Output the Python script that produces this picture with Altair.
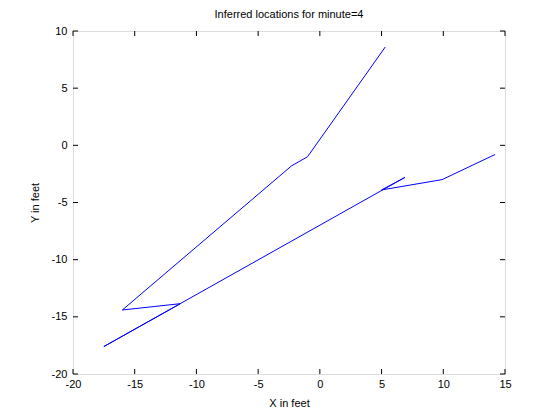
import altair as alt
import pandas as pd

# Path of inferred locations (in drawing order)
xs = [5.3, -1.0, -2.3, -16.0, -11.3, -17.5, 6.9, 5.0, 9.9, 14.2]
ys = [8.6, -1.0, -1.8, -14.4, -13.85, -17.6, -2.8, -3.9, -3.0, -0.8]

x_ticks = [-20, -15, -10, -5, 0, 5, 10, 15]
y_ticks = [-20, -15, -10, -5, 0, 5, 10]

df = pd.DataFrame({"x": xs, "y": ys, "i": list(range(len(xs)))})
dfx = pd.DataFrame({"t": x_ticks})
dfy = pd.DataFrame({"t": y_ticks})

W, H = 432, 343
TL = 5
FONT = "Liberation Sans"

xscale = alt.Scale(domain=[-20, 15], nice=False, zero=False)
yscale = alt.Scale(domain=[-20, 10], nice=False, zero=False)

xaxis = alt.Axis(values=x_ticks, ticks=False, domain=False, grid=False,
                 labelExpr="toString(datum.value)",
                 labelFont=FONT, labelFontSize=11, labelColor="black",
                 labelPadding=4, titleFont=FONT, titleFontSize=11,
                 titleFontWeight="normal", titleColor="black", titlePadding=8,
                 labelFlush=False)
yaxis = alt.Axis(values=y_ticks, ticks=False, domain=False, grid=False,
                 labelExpr="toString(datum.value)",
                 labelFont=FONT, labelFontSize=11, labelColor="black",
                 labelPadding=6, titleFont=FONT, titleFontSize=11,
                 titleFontWeight="normal", titleColor="black", titlePadding=11,
                 labelFlush=False)

main = alt.Chart(df).mark_line(color="#0000ff", strokeWidth=1).encode(
    x=alt.X("x:Q", scale=xscale, title="X in feet", axis=xaxis),
    y=alt.Y("y:Q", scale=yscale, title="Y in feet", axis=yaxis),
    order=alt.Order("i:Q"),
)

tx = alt.X("t:Q", scale=xscale, title="X in feet", axis=xaxis)
ty = alt.Y("t:Q", scale=yscale, title="Y in feet", axis=yaxis)

bottom_ticks = alt.Chart(dfx).mark_rule(color="black", strokeWidth=1).encode(
    x=tx, y=alt.value(H), y2=alt.value(H - TL))
top_ticks = alt.Chart(dfx).mark_rule(color="black", strokeWidth=1).encode(
    x=tx, y=alt.value(0), y2=alt.value(TL))
left_ticks = alt.Chart(dfy).mark_rule(color="black", strokeWidth=1).encode(
    y=ty, x=alt.value(0), x2=alt.value(TL))
right_ticks = alt.Chart(dfy).mark_rule(color="black", strokeWidth=1).encode(
    y=ty, x=alt.value(W), x2=alt.value(W - TL))

chart = (
    alt.layer(main, bottom_ticks, top_ticks, left_ticks, right_ticks)
    .properties(
        width=W,
        height=H,
        title=alt.TitleParams("Inferred locations for minute=4", font=FONT,
                              fontSize=11, fontWeight="normal", color="black",
                              offset=5),
        autosize=alt.AutoSizeParams(type="none"),
        padding={"left": 65, "top": 23, "right": 40, "bottom": 45},
    )
    .configure_view(stroke="black", strokeWidth=1)
    .configure(background="white")
)

chart.save("out.html", embed_options={"renderer": "svg", "actions": False})
